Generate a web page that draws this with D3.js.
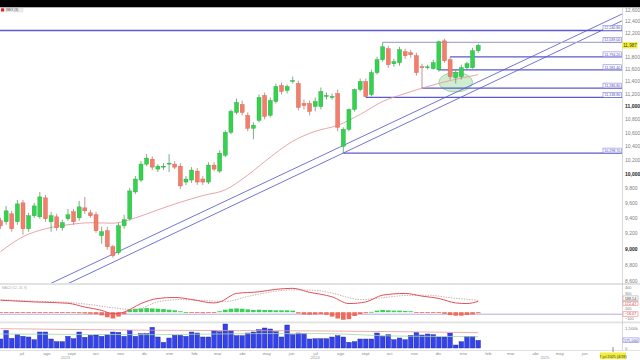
<!DOCTYPE html>
<html>
<head>
<meta charset="utf-8">
<script src="https://cdn.jsdelivr.net/npm/d3@7/dist/d3.min.js"></script>
<style>
html,body{margin:0;padding:0;background:#fff;}
svg{display:block;}
text{font-family:"Liberation Sans",Arial,sans-serif;}
</style>
</head>
<body>
<svg id="chart" width="640" height="360"></svg>
<script>
// ================= DATA =================
const startDate = "2023-06-05"; // first weekly candle
const opens = [9362,9349,9454,9349,9601,9257,9428,9414,9669,9349,
  9414,9270,9388,9481,9401,9534,9467,9441,9167,9231,
  9026,8951,9296,9388,9750,9915,10140,10211,10069,10097,
  10140,10140,10111,9887,9915,10041,9929,9887,10126,10041,
  10268,10605,10906,11029,10861,10665,10785,11170,10861,11076,
  11328,11248,11391,11360,11045,11045,10998,10998,11154,11138,
  11201,10399,10650,10952,11264,11391,11186,11536,11747,11930,
  11681,11698,11880,11863,11813,11632,11616,11600,11581.4,12064,
  11747,11455,11471,11616,11616,11896];
const highs = [9401,9560,9494,9641,9641,9467,9601,9750,9709,9481,
  9454,9375,9520,9520,9628,9682,9507,9481,9283,9283,
  9051,9336,9441,9805,9971,10183,10283,10254,10140,10154,
  10283,10183,10154,9971,10097,10083,9971,10168,10168,10340,
  10635,10952,11123,11091,10906,10755,11186,11217,11138,11360,
  11375,11344,11471,11407,11107,11091,11138,11296,11217,11201,
  11264,10680,10967,11280,11439,11439,11584,11796,12039,11980,
  11763,11963,11930,11913,11863,11681,11665,11747,12064,12098,
  11794.2,11584,11665,11714,11946,12013];
const lows = [9257,9309,9218,9309,9180,9218,9401,9388,9349,9218,
  9231,9231,9362,9309,9362,9454,9401,9205,9064,8988,
  8888,8926,9257,9362,9723,9887,10111,10055,10027,10055,
  10027,10069,9791,9846,9874,9846,9846,9860,10041,10013,
  10240,10575,10876,10861,10620,10501,10755,10800,10830,11045,
  11186,11201,11360,10937,10952,10861,10922,10952,11107,11107,
  10620,10298.7,10620,10920,11233,11138.8,11154,11503,11714,11616,
  11632,11648,11763,11780,11487,11286.8,11584,11584,11551,11698,
  11423,11360,11423,11584,11600,11860];
const closes = [9296,9494,9257,9587,9257,9428,9560,9682,9388,9428,
  9270,9336,9441,9349,9547,9494,9428,9231,9218,9026,
  8913,9296,9375,9764,9929,10140,10226,10097,10111,10111,
  10154,10097,9833,9929,10055,9887,9887,10126,10069,10297,
  10605,10922,11060,10906,10665,10710,11138,10846,11091,11312,
  11233,11312,11407,10983,11014,10922,11076,11233,11170,11154,
  10680,10650,10952,11264,11391,11154,11536,11747,11963,11665,
  11714,11913,11813,11830,11536,11616,11630,11698,12047,11731,
  11471,11536,11616,11681,11896,11987];
const volumes = [675,1325,725,1000,875,825,625,1200,1200,675,
  475,475,875,700,1200,800,950,975,875,1000,
  1200,1175,875,1325,875,1075,1075,1550,825,425,
  750,950,950,875,1200,1125,825,825,1300,1225,
  1800,1300,925,925,1125,1200,1375,1500,1425,1225,
  825,1725,1000,1125,1075,675,700,700,700,825,
  925,825,425,475,675,675,675,1125,875,1000,
  625,750,625,950,1175,975,1050,1000,825,825,
  1125,225,475,875,875,575];
const histVals = [-10,-12,-10,-8,-10,-12,-10,-8,-12,-10,
  -8,-10,-8,-10,-15,-20,-25,-30,-50,-80,
  -100,-70,-30,40,55,60,65,60,55,50,
  40,30,15,3,-3,-10,-15,-12,-8,15,
  40,55,60,55,45,35,40,35,35,30,
  30,30,25,-20,-35,-40,-35,-30,-40,-70,
  -100,-120,-110,-60,-30,-15,5,25,35,30,
  25,25,20,15,-5,-10,-10,-8,-5,-25,
  -45,-55,-55,-45,-35,-16.07];
// MACD line and signal line, sampled at candle indices
const macdIdx = [0,6,12,15,18,20,22,25,28,31,34,38,39,42,46,49,52,55,57,59,62,65,68,72,75,78,81,83,85];
const macdVal = [190,163,142,82,29,-24,2,137,218,234,202,147,163,298,324,363,379,315,285,244,137,163,271,298,255,218,147,137,172.47];
const signalIdx = [0,6,12,16,20,24,28,32,36,40,44,48,52,56,60,62,64,68,72,76,80,85];
const signalVal = [200,175,155,120,70,40,165,200,185,170,250,320,355,345,280,230,200,230,265,270,230,188.54];
// moving average on price, sampled at candle indices
const maIdx = [0,4,8,12,16,20,24,28,32,36,40,44,48,52,56,60,64,68,72,76,80,85];
const maVal = [8963,9154,9257,9309,9336,9330,9400,9507,9610,9700,9780,9985,10240,10472,10620,10710,10876,11076,11201,11312,11407,11503];
// volume averages
const volRedIdx = [0,28,57,85];
const volRedVal = [1450,1330,1280,1150];
const volGreenIdx = [0,28,45,57,70,85];
const volGreenVal = [1050,1000,1080,1080,900,850];
// horizontal levels and the candle where each one starts
const levels = [12240.80, 12039.00, 11794.20, 11581.40, 11286.80, 11138.80, 10298.70];
const levelStartIdx = [-8, 68, 80, 78, 75, 65, 61];
// trend channel anchors (candle index, price)
const trendUpperIdx = [20, 80], trendUpperPrice = [8932, 11176];
const trendLowerIdx = [61, 85], trendLowerPrice = [10300, 11272];
// highlighted zone (candle index span, price span)
const zoneIdx = [78, 84], zonePrice = [11540, 11225];
// axes
const priceTicks = [8600,8800,9000,9200,9400,9600,9800,10000,10200,10400,10600,10800,11000,11200,11400,11600,11800,12200,12400,12600];
const boldTicks = [9000,10000,11000];
const macdTicks = [400,300,100,-100];
const volTicks = [1500,0];
const monthNames = ["ene","feb","mar","abr","may","jun","jul","ago","sept","oct","nov","dic"];
const yearLabels = ["2023","2024","2025"];
const yearLabelDates = ["2023-08-25","2024-07-01","2025-04-13"];
const lastPrice = 11987;
const titleText = "IBEX (S)";
const cursorDateText = "7 jul 2025 (4/28)";

// ================= LAYOUT =================
const svg = d3.select("#chart");
const plotRight = 622;
const priceTop = 8, priceBottom = 283;
const parse = d3.timeParse("%Y-%m-%d");
const t0 = parse(startDate);
const dates = opens.map((_, i) => d3.timeDay.offset(t0, i * 7));
const x = d3.scaleTime().domain([dates[0], dates[dates.length - 1]]).range([0.5, 478.2]);
const xi = i => x(d3.timeDay.offset(t0, i * 7));
const y = d3.scaleLog().domain([8600, 12600]).range([281, 10]);
const macdY = d3.scaleLinear().domain([-100, 400]).range([318.5, 287]);
const volY = d3.scaleLinear().domain([0, 1500]).range([348, 328]);

svg.append("rect").attr("width", 640).attr("height", 360).attr("fill", "#fff");

const defs = svg.append("defs");
defs.append("clipPath").attr("id", "pclip").append("rect")
  .attr("x", 0).attr("y", priceTop).attr("width", plotRight).attr("height", priceBottom - priceTop);

const pg = svg.append("g").attr("clip-path", "url(#pclip)");

// highlighted zone ellipse
pg.append("ellipse")
  .attr("cx", (xi(zoneIdx[0]) + xi(zoneIdx[1])) / 2)
  .attr("cy", (y(zonePrice[0]) + y(zonePrice[1])) / 2)
  .attr("rx", (xi(zoneIdx[1]) - xi(zoneIdx[0])) / 2)
  .attr("ry", (y(zonePrice[1]) - y(zonePrice[0])) / 2)
  .attr("fill", "rgba(150,215,150,0.45)").attr("stroke", "#8fcf8f").attr("stroke-width", 0.8);

// trend channel lines
function trend(idx, pr, color) {
  const x1 = xi(idx[0]), y1 = y(pr[0]), x2 = xi(idx[1]), y2 = y(pr[1]);
  const s = (y2 - y1) / (x2 - x1);
  pg.append("line").attr("x1", -20).attr("y1", y1 + s * (-20 - x1))
    .attr("x2", plotRight).attr("y2", y1 + s * (plotRight - x1))
    .attr("stroke", color).attr("stroke-width", 1);
}
trend(trendUpperIdx, trendUpperPrice, "#7474d6");
trend(trendLowerIdx, trendLowerPrice, "#7474d6");

// horizontal levels
levels.forEach((lv, k) => {
  pg.append("line").attr("x1", xi(levelStartIdx[k])).attr("x2", plotRight)
    .attr("y1", y(lv)).attr("y2", y(lv))
    .attr("stroke", k === 1 ? "#a9a9d6" : "#5a5acc")
    .attr("stroke-width", k === 0 ? 1.4 : 1.2);
});

// moving average
pg.append("path")
  .datum(maIdx.map((d, k) => [d, maVal[k]]))
  .attr("d", d3.line().x(d => xi(d[0])).y(d => y(d[1])).curve(d3.curveMonotoneX))
  .attr("fill", "none").attr("stroke", "#e49c9c").attr("stroke-width", 0.9);

// candles
const bw = 4;
const cg = pg.append("g");
opens.forEach((o, i) => {
  const c = closes[i], up = c >= o;
  const cx = xi(i);
  const fill = up ? "#35d24f" : "#f27e6c";
  const stroke = up ? "#22a83a" : "#d45f4f";
  cg.append("line").attr("x1", cx).attr("x2", cx).attr("y1", y(highs[i])).attr("y2", y(lows[i]))
    .attr("stroke", up ? "#5a9a66" : "#b87a72").attr("stroke-width", 0.8);
  const top = y(Math.max(o, c)), bot = y(Math.min(o, c));
  cg.append("rect").attr("x", cx - bw / 2).attr("y", top).attr("width", bw)
    .attr("height", Math.max(0.9, bot - top))
    .attr("fill", fill).attr("stroke", stroke).attr("stroke-width", 0.4);
});

// level label boxes
levels.forEach((lv, k) => {
  const yy = y(lv);
  svg.append("rect").attr("x", 603).attr("y", yy - 5).attr("width", 18.5).attr("height", 4.8)
    .attr("fill", "#fff").attr("stroke", "#6a6ad0").attr("stroke-width", 0.5);
  svg.append("text").attr("x", 612.3).attr("y", yy - 1.3).attr("text-anchor", "middle")
    .attr("font-size", 3.6).attr("fill", "#4848b8").text(d3.format(",.2f")(lv));
});

// panel separators
svg.append("rect").attr("x", 0).attr("y", 283).attr("width", 640).attr("height", 2).attr("fill", "#e2e2e2");
svg.append("rect").attr("x", 0).attr("y", 321.5).attr("width", 640).attr("height", 1.8).attr("fill", "#e2e2e2");
svg.append("line").attr("x1", 0).attr("x2", 640).attr("y1", 350.5).attr("y2", 350.5).attr("stroke", "#d6d6d6").attr("stroke-width", 0.7);
svg.append("line").attr("x1", plotRight + 0.5).attr("x2", plotRight + 0.5).attr("y1", priceTop).attr("y2", 350.5)
  .attr("stroke", "#c8c8c8").attr("stroke-width", 0.7);

// price axis
const gY = svg.append("g").attr("transform", `translate(${plotRight},0)`)
  .call(d3.axisRight(y).tickValues(priceTicks).tickFormat(d3.format(",")).tickSize(0).tickPadding(3));
gY.select(".domain").remove();
gY.attr("font-family", "Liberation Sans, Arial, sans-serif").attr("font-size", 5);
gY.selectAll("text").attr("fill", d => boldTicks.includes(d) ? "#222" : "#808080")
  .attr("font-weight", d => boldTicks.includes(d) ? "bold" : "normal");

// current price label
svg.append("rect").attr("x", 622.5).attr("y", y(lastPrice) - 3.3).attr("width", 15).attr("height", 6.4).attr("fill", "#f4f03a");
svg.append("text").attr("x", 630).attr("y", y(lastPrice) + 1.7).attr("text-anchor", "middle")
  .attr("font-size", 4.6).attr("fill", "#333").text(d3.format(",")(lastPrice));

// ================= MACD PANEL =================
const mg = svg.append("g");
mg.append("text").attr("x", 2).attr("y", 288.5).attr("font-size", 3.2).attr("fill", "#aaa").text("MACD (12, 26, 9)");
mg.append("line").attr("x1", 0).attr("x2", plotRight).attr("y1", macdY(histVals[histVals.length - 1]) + 1)
  .attr("y2", macdY(histVals[histVals.length - 1]) + 1).attr("stroke", "#9c9ce0").attr("stroke-width", 0.8);
histVals.forEach((h, i) => {
  const y0 = macdY(0), y1 = macdY(h);
  mg.append("rect").attr("x", xi(i) - 2.3).attr("width", 4.6)
    .attr("y", Math.min(y0, y1)).attr("height", Math.max(0.8, Math.abs(y1 - y0)))
    .attr("fill", h >= 0 ? "#3ccf56" : "#f06a5c");
});
mg.append("path").datum(signalIdx.map((d, k) => [d, signalVal[k]]))
  .attr("d", d3.line().x(d => xi(d[0])).y(d => macdY(d[1])).curve(d3.curveMonotoneX))
  .attr("fill", "none").attr("stroke", "#c09a9a").attr("stroke-width", 0.8).attr("stroke-dasharray", "1.4,1.2");
mg.append("path").datum(macdIdx.map((d, k) => [d, macdVal[k]]))
  .attr("d", d3.line().x(d => xi(d[0])).y(d => macdY(d[1])).curve(d3.curveMonotoneX))
  .attr("fill", "none").attr("stroke", "#e2505e").attr("stroke-width", 1);

const gM = svg.append("g").attr("transform", `translate(${plotRight},0)`)
  .call(d3.axisRight(macdY).tickValues(macdTicks).tickSize(0).tickPadding(3));
gM.select(".domain").remove();
gM.attr("font-family", "Liberation Sans, Arial, sans-serif").attr("font-size", 3.8);
gM.selectAll("text").attr("fill", "#808080")
  .attr("dy", d => d === 100 ? "1.05em" : "0.32em");
function sideBox(yy, txt, stroke, color) {
  svg.append("rect").attr("x", 623).attr("y", yy - 2.2).attr("width", 15).attr("height", 4.4)
    .attr("fill", "#fff").attr("stroke", stroke).attr("stroke-width", 0.5);
  svg.append("text").attr("x", 630.5).attr("y", yy + 1.4).attr("text-anchor", "middle")
    .attr("font-size", 3.8).attr("fill", color).text(txt);
}
const sigLast = signalVal[signalVal.length - 1], macdLast = macdVal[macdVal.length - 1], histLast = histVals[histVals.length - 1];
sideBox(macdY(sigLast) - 2.2, d3.format(".2f")(sigLast), "#999", "#444");
sideBox(macdY(macdLast) + 2.2, d3.format(".2f")(macdLast), "#e07070", "#d83a3a");
sideBox(macdY(histLast) + 0.8, d3.format(".2f")(histLast), "#e07070", "#d83a3a");

// ================= VOLUME PANEL =================
const vg = svg.append("g");
volumes.forEach((v, i) => {
  vg.append("rect").attr("x", xi(i) - 2.3).attr("width", 4.6)
    .attr("y", volY(v)).attr("height", volY(0) - volY(v))
    .attr("fill", "#3342ea").attr("stroke", "#1c2396").attr("stroke-width", 0.4);
});
vg.append("path").datum(volRedIdx.map((d, k) => [d, volRedVal[k]]))
  .attr("d", d3.line().x(d => xi(d[0])).y(d => volY(d[1])).curve(d3.curveMonotoneX))
  .attr("fill", "none").attr("stroke", "#e49a9a").attr("stroke-width", 0.8);
vg.append("path").datum(volGreenIdx.map((d, k) => [d, volGreenVal[k]]))
  .attr("d", d3.line().x(d => xi(d[0])).y(d => volY(d[1])).curve(d3.curveMonotoneX))
  .attr("fill", "none").attr("stroke", "#9fd69f").attr("stroke-width", 0.8);
const gV = svg.append("g").attr("transform", `translate(${plotRight},0)`)
  .call(d3.axisRight(volY).tickValues(volTicks).tickFormat(d => d === 0 ? "0" : d3.format(",")(d) + "k").tickSize(0).tickPadding(3));
gV.select(".domain").remove();
gV.attr("font-family", "Liberation Sans, Arial, sans-serif").attr("font-size", 4.3);
gV.selectAll("text").attr("fill", "#808080");
const vLast = volumes[volumes.length - 1];
svg.append("rect").attr("x", 623).attr("y", volY(vLast) - 2.4).attr("width", 16).attr("height", 4.8)
  .attr("fill", "#fff").attr("stroke", "#6a6ad0").attr("stroke-width", 0.5);
svg.append("text").attr("x", 631).attr("y", volY(vLast) + 1.5).attr("text-anchor", "middle")
  .attr("font-size", 3.8).attr("fill", "#4848b8").text(d3.format(",.0f")(vLast * 1000));

// ================= TIME AXIS =================
const monthTicks = d3.timeMonth.range(new Date(2023, 6, 1), new Date(2025, 6, 1));
const gX = svg.append("g").attr("transform", "translate(0,350)")
  .call(d3.axisBottom(x).tickValues(monthTicks).tickFormat(d => monthNames[d.getMonth()]).tickSize(0).tickPadding(1.5));
gX.select(".domain").remove();
gX.attr("font-family", "Liberation Sans, Arial, sans-serif").attr("font-size", 4.3);
gX.selectAll("text").attr("fill", "#8a8a8a");
yearLabels.forEach((yl, k) => {
  svg.append("text").attr("x", x(parse(yearLabelDates[k]))).attr("y", 359).attr("text-anchor", "middle")
    .attr("font-size", 4).attr("fill", "#999").text(yl);
});
// cursor date marker
svg.append("line").attr("x1", 613).attr("x2", 613).attr("y1", 347).attr("y2", 352).attr("stroke", "#777").attr("stroke-width", 0.8);
svg.append("rect").attr("x", 600).attr("y", 352.5).attr("width", 26).attr("height", 6.5).attr("fill", "#f4f03a");
svg.append("text").attr("x", 613).attr("y", 357.5).attr("text-anchor", "middle")
  .attr("font-size", 3.8).attr("fill", "#333").text(cursorDateText);

// ================= HEADER =================
svg.append("rect").attr("x", 0).attr("y", 0).attr("width", 640).attr("height", 7.3).attr("fill", "#000");
svg.append("rect").attr("x", 1).attr("y", 8.3).attr("width", 3.2).attr("height", 3.2).attr("fill", "#e0202a");
svg.append("rect").attr("x", 5).attr("y", 8).attr("width", 18).attr("height", 4).attr("fill", "#eee").attr("stroke", "#ccc").attr("stroke-width", 0.3);
svg.append("text").attr("x", 6).attr("y", 11.2).attr("font-size", 3.2).attr("fill", "#555").text(titleText);
</script>
</body>
</html>
